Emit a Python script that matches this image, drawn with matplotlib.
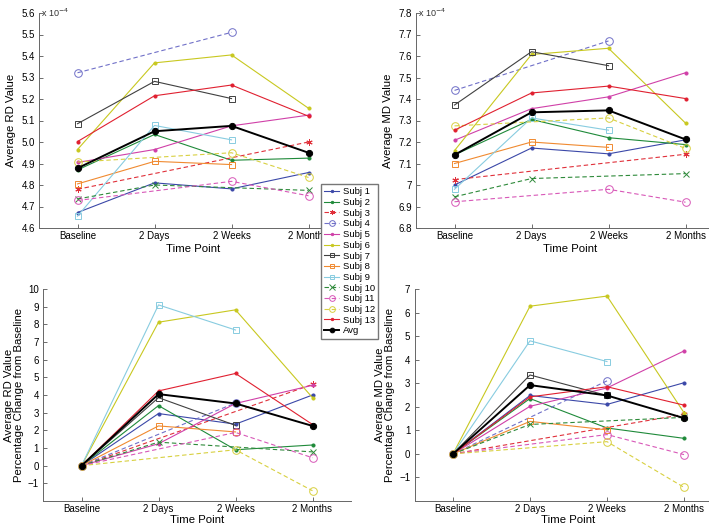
import numpy as np
import matplotlib
matplotlib.use("Agg")
import matplotlib.pyplot as plt

plt.rcParams['font.family'] = ['Liberation Sans', 'DejaVu Sans']

nan = np.nan
time_points = ["Baseline", "2 Days", "2 Weeks", "2 Months"]
labels = ["Subj 1", "Subj 2", "Subj 3", "Subj 4", "Subj 5", "Subj 6", "Subj 7",
          "Subj 8", "Subj 9", "Subj 10", "Subj 11", "Subj 12", "Subj 13", "Avg"]

# Average RD value (x 1e-4)
rd_raw = [
    [4.672, 4.810, 4.782, 4.858],
    [4.870, 5.035, 4.915, 4.925],
    [4.780, nan, nan, 5.000],
    [5.322, nan, 5.510, nan],
    [4.905, 4.965, 5.075, 5.125],
    [4.965, 5.368, 5.405, 5.157],
    [5.085, 5.282, 5.202, nan],
    [4.805, 4.910, 4.895, nan],
    [4.655, 5.077, 5.010, nan],
    [4.735, 4.800, nan, 4.775],
    [4.728, nan, 4.817, 4.750],
    [4.907, nan, 4.950, 4.835],
    [5.002, 5.215, 5.265, 5.120],
    [4.878, 5.050, 5.075, 4.950],
]

# Average MD value (x 1e-4)
md_raw = [
    [7.000, 7.172, 7.145, 7.210],
    [7.140, 7.305, 7.220, 7.188],
    [7.025, nan, nan, 7.143],
    [7.440, nan, 7.670, nan],
    [7.208, 7.355, 7.410, 7.522],
    [7.160, 7.607, 7.636, 7.288],
    [7.372, 7.620, 7.555, nan],
    [7.100, 7.200, 7.175, nan],
    [6.980, 7.312, 7.255, nan],
    [6.945, 7.030, nan, 7.053],
    [6.922, nan, 6.980, 6.920],
    [7.275, nan, 7.312, 7.170],
    [7.255, 7.428, 7.460, 7.402],
    [7.140, 7.338, 7.347, 7.212],
]

# Percentage change from baseline, RD
rd_pct = [
    [0, 2.95, 2.35, 4.00],
    [0, 3.40, 0.90, 1.17],
    [0, nan, nan, 4.60],
    [0, nan, 3.55, nan],
    [0, 1.24, 3.52, 4.55],
    [0, 8.12, 8.82, 3.85],
    [0, 3.85, 2.28, nan],
    [0, 2.25, 1.91, nan],
    [0, 9.10, 7.68, nan],
    [0, 1.33, nan, 0.78],
    [0, nan, 1.88, 0.45],
    [0, nan, 0.90, -1.42],
    [0, 4.23, 5.22, 2.33],
    [0, 4.05, 3.52, 2.25],
]

# Percentage change from baseline, MD
md_pct = [
    [0, 2.48, 2.10, 3.02],
    [0, 2.35, 1.10, 0.66],
    [0, nan, nan, 1.68],
    [0, nan, 3.10, nan],
    [0, 2.02, 2.80, 4.37],
    [0, 6.27, 6.70, 1.75],
    [0, 3.35, 2.48, nan],
    [0, 1.38, 1.02, nan],
    [0, 4.80, 3.92, nan],
    [0, 1.25, nan, 1.55],
    [0, nan, 0.82, -0.03],
    [0, nan, 0.52, -1.42],
    [0, 2.42, 2.85, 2.07],
    [0, 2.92, 2.48, 1.52],
]

rd_ticklabels = ["4.6", "4.7", "4.8", "4.9", "5.0", "5.1", "5.2", "5.3", "5.4", "5.5", "5.6"]
md_ticklabels = ["6.8", "6.9", "7", "7.1", "7.2", "7.3", "7.4", "7.5", "7.6", "7.7", "7.8"]

colors = ["#3b48a8", "#1f8a3a", "#e0303a", "#7070c8", "#d040a8", "#c8c820",
          "#404040", "#f08a30", "#88cce0", "#2e8a3a", "#d858b8", "#d8d040",
          "#e02030", "#000000"]
styles = ["-", "-", "--", "--", "-", "-", "-", "-", "-", "--", "--", "--", "-", "-"]
markers = [".", ".", (6, 2, 0), "o", ".", ".", "s", "s", "s", "x", "o", "o", ".", "."]
msizes = [4.5, 4.5, 4.5, 5.5, 4.5, 4.5, 4, 4, 4, 5, 5.5, 5.5, 4.5, 9]
lwidths = [0.8] * 13 + [1.4]

W, H = 709, 527
fig = plt.figure(figsize=(W / 100, H / 100), dpi=100)

def add_ax(x0, y_top, w, y_bot):
    return fig.add_axes([x0 / W, 1 - y_bot / H, w / W, (y_bot - y_top) / H])

axes = [
    add_ax(39, 13, 308, 228),
    add_ax(416, 13, 308, 228),
    add_ax(43, 289, 308, 501),
    add_ax(414.5, 289, 308, 501),
]
datasets = [rd_raw, md_raw, rd_pct, md_pct]
ylims = [(4.6, 5.6), (6.8, 7.8), (-2, 10), (-2, 7)]
yticks = [np.linspace(4.6, 5.6, 11), np.linspace(6.8, 7.8, 11),
          np.arange(-1, 11, 1), np.arange(-1, 8, 1)]
ylabels = ["Average RD Value", "Average MD Value",
           "Average RD Value\nPercentage Change from Baseline",
           "Average MD Value\nPercentage Change from Baseline"]

x = np.arange(1, 5)
handles = []
for k, (ax, data) in enumerate(zip(axes, datasets)):
    for i, row in enumerate(data):
        row = np.array(row, dtype=float)
        m = ~np.isnan(row)
        mk = markers[i]
        filled = mk in (".", "x") or mk == (6, 2, 0)
        h, = ax.plot(x[m], row[m], linestyle=styles[i], color=colors[i],
                     lw=lwidths[i], marker=mk, ms=msizes[i],
                     mfc=colors[i] if filled else "none", mec=colors[i],
                     mew=0.7, label=labels[i], zorder=3 if i == 13 else 2,
                     dashes=(4, 2.5) if styles[i] == "--" else (None, None))
        if k == 0:
            handles.append(h)
    ax.set_xlim(0.5, 4.5)
    ax.set_ylim(*ylims[k])
    ax.set_xticks(x)
    ax.set_xticklabels(time_points)
    ax.set_yticks(yticks[k])
    if k == 0:
        ax.set_yticklabels(rd_ticklabels)
    elif k == 1:
        ax.set_yticklabels(md_ticklabels)
    else:
        ax.set_yticklabels(["\u2212%d" % -v if v < 0 else "%d" % v for v in yticks[k]])
    ax.tick_params(axis="both", direction="in", length=3, width=0.6,
                   labelsize=7, color="#555555", pad=3)
    ax.tick_params(axis="x", pad=2.5)
    for s in ("top", "right"):
        ax.spines[s].set_visible(False)
    for s in ("left", "bottom"):
        ax.spines[s].set_color("#666666")
        ax.spines[s].set_linewidth(0.7)
    ax.set_xlabel("Time Point", fontsize=8.2, labelpad=2 if k < 2 else 0.5)
    ax.set_ylabel(ylabels[k], fontsize=8.2, labelpad=4 if k < 2 else 3,
                  linespacing=1.0)
    if k < 2:
        ax.text(0.0, 1.0, " x 10$^{-4}$", transform=ax.transAxes,
                fontsize=6.5, ha="left", va="center", color="#333333")

fig.legend(handles=handles, loc="upper left",
           bbox_to_anchor=(321 / W, 1 - 184 / H), fontsize=6.8,
           frameon=True, fancybox=False, edgecolor="#777777",
           framealpha=1, handlelength=1.6, handletextpad=0.35,
           labelspacing=0.18, borderpad=0.35, borderaxespad=0,
           markerscale=0.75)

fig.savefig("out.png", dpi=100)
